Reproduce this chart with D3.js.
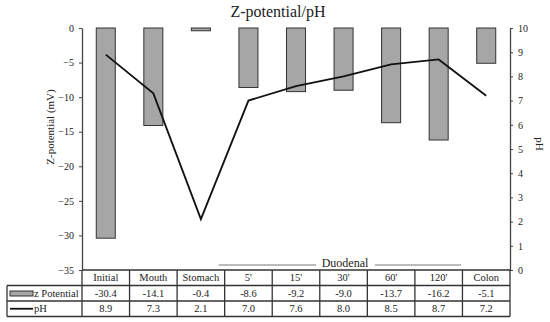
<!DOCTYPE html>
<html>
<head>
<meta charset="utf-8">
<script src="https://cdn.jsdelivr.net/npm/d3@7"></script>
<style>
  body { margin: 0; background: #fff; }
  text { font-family: "Liberation Serif", "Times New Roman", serif; fill: #222; }
</style>
</head>
<body>
<svg width="550" height="322"></svg>
<script>
// data
const categories = ["Initial", "Mouth", "Stomach", "5'", "15'", "30'", "60'", "120'", "Colon"];
const zPotential = [-30.4, -14.1, -0.4, -8.6, -9.2, -9.0, -13.7, -16.2, -5.1];
const pH = [8.9, 7.3, 2.1, 7.0, 7.6, 8.0, 8.5, 8.7, 7.2];
const zTicks = [0, -5, -10, -15, -20, -25, -30, -35];
const pHTicks = [0, 1, 2, 3, 4, 5, 6, 7, 8, 9, 10];

const svg = d3.select("svg");
const plotLeft = 82, plotRight = 510, plotTop = 28, plotBottom = 270;
const rowH = 15.5;

const x = d3.scaleBand().domain(categories).range([plotLeft, plotRight]);
const yZ = d3.scaleLinear().domain([-35, 0]).range([plotBottom, plotTop]);
const yP = d3.scaleLinear().domain([0, 10]).range([plotBottom, plotTop]);

// title
svg.append("text")
    .attr("x", 278).attr("y", 17)
    .attr("text-anchor", "middle")
    .style("font-size", "16px")
    .text("Z-potential/pH");

// bars
svg.selectAll(".bar")
    .data(zPotential)
    .enter().append("rect")
    .attr("class", "bar")
    .attr("x", (d, i) => x(categories[i]) + x.bandwidth() * 0.3)
    .attr("width", x.bandwidth() * 0.4)
    .attr("y", yZ(0))
    .attr("height", d => yZ(d) - yZ(0))
    .attr("fill", "#a6a6a6")
    .attr("stroke", "#333")
    .attr("stroke-width", 1);

// pH line
const line = d3.line()
    .x((d, i) => x(categories[i]) + x.bandwidth() / 2)
    .y(d => yP(d));
svg.append("path")
    .datum(pH)
    .attr("d", line)
    .attr("fill", "none")
    .attr("stroke", "#111")
    .attr("stroke-width", 1.8);

// axes
const gL = svg.append("g")
    .attr("transform", `translate(${plotLeft},0)`)
    .call(d3.axisLeft(yZ).tickValues(zTicks).tickSize(3).tickSizeOuter(0));
const gR = svg.append("g")
    .attr("transform", `translate(${plotRight},0)`)
    .call(d3.axisRight(yP).tickValues(pHTicks).tickSize(3).tickSizeOuter(0));
[gL, gR].forEach(g => {
    g.select(".domain").attr("stroke", "#444").attr("stroke-width", 1.3);
    g.selectAll(".tick line").attr("stroke", "#444");
    g.selectAll(".tick text")
        .style("font-family", "Liberation Serif, serif")
        .style("font-size", "10px")
        .attr("fill", "#222");
});
gL.selectAll(".tick text").attr("x", -8);
gR.selectAll(".tick text").attr("x", 8);

// axis titles
svg.append("text")
    .attr("transform", "translate(54,127) rotate(-90)")
    .attr("text-anchor", "middle")
    .style("font-size", "11px")
    .text("Z-potential (mV)");
svg.append("text")
    .attr("transform", "translate(536,144) rotate(90)")
    .attr("text-anchor", "middle")
    .style("font-size", "11px")
    .text("pH");

// Duodenal bracket
const dStart = x("5'");
svg.append("line").attr("x1", dStart - 6).attr("x2", 316).attr("y1", 265).attr("y2", 265)
    .attr("stroke", "#777").attr("stroke-width", 1);
svg.append("line").attr("x1", 375).attr("x2", 461).attr("y1", 265).attr("y2", 265)
    .attr("stroke", "#777").attr("stroke-width", 1);
svg.append("text")
    .attr("x", 345).attr("y", 267)
    .attr("text-anchor", "middle")
    .style("font-size", "12px")
    .text("Duodenal");

// data table
const tableLeft = 7;
const tbl = svg.append("g");
const rowY = [plotBottom, plotBottom + rowH, plotBottom + 2 * rowH, plotBottom + 3 * rowH];
const lineStyle = sel => sel.attr("stroke", "#333").attr("stroke-width", 1.3);

// horizontal lines
tbl.append("line").attr("x1", plotLeft).attr("x2", plotRight).attr("y1", rowY[0]).attr("y2", rowY[0]).call(lineStyle);
[1, 2, 3].forEach(r => {
    tbl.append("line").attr("x1", tableLeft).attr("x2", plotRight).attr("y1", rowY[r]).attr("y2", rowY[r]).call(lineStyle);
});
// vertical lines
tbl.append("line").attr("x1", tableLeft).attr("x2", tableLeft).attr("y1", rowY[1]).attr("y2", rowY[3]).call(lineStyle);
categories.forEach(c => {
    tbl.append("line").attr("x1", x(c)).attr("x2", x(c)).attr("y1", rowY[0]).attr("y2", rowY[3]).call(lineStyle);
});
tbl.append("line").attr("x1", plotRight).attr("x2", plotRight).attr("y1", rowY[0]).attr("y2", rowY[3]).call(lineStyle);

const cellText = (xx, row, t, anchor) => tbl.append("text")
    .attr("x", xx).attr("y", rowY[row] + rowH / 2 + 3.5)
    .attr("text-anchor", anchor || "middle")
    .style("font-size", "10.5px")
    .text(t);

categories.forEach((c, i) => {
    const cx = x(c) + x.bandwidth() / 2;
    cellText(cx, 0, c);
    cellText(cx, 1, zPotential[i].toFixed(1));
    cellText(cx, 2, pH[i].toFixed(1));
});

// legend keys
tbl.append("rect")
    .attr("x", 10).attr("y", rowY[1] + 5.5).attr("width", 23).attr("height", 5)
    .attr("fill", "#a6a6a6").attr("stroke", "#333").attr("stroke-width", 1);
cellText(34, 1, "z Potential", "start");
tbl.append("line")
    .attr("x1", 10).attr("x2", 33).attr("y1", rowY[2] + rowH / 2).attr("y2", rowY[2] + rowH / 2)
    .attr("stroke", "#111").attr("stroke-width", 1.8);
cellText(34, 2, "pH", "start");
</script>
</body>
</html>
